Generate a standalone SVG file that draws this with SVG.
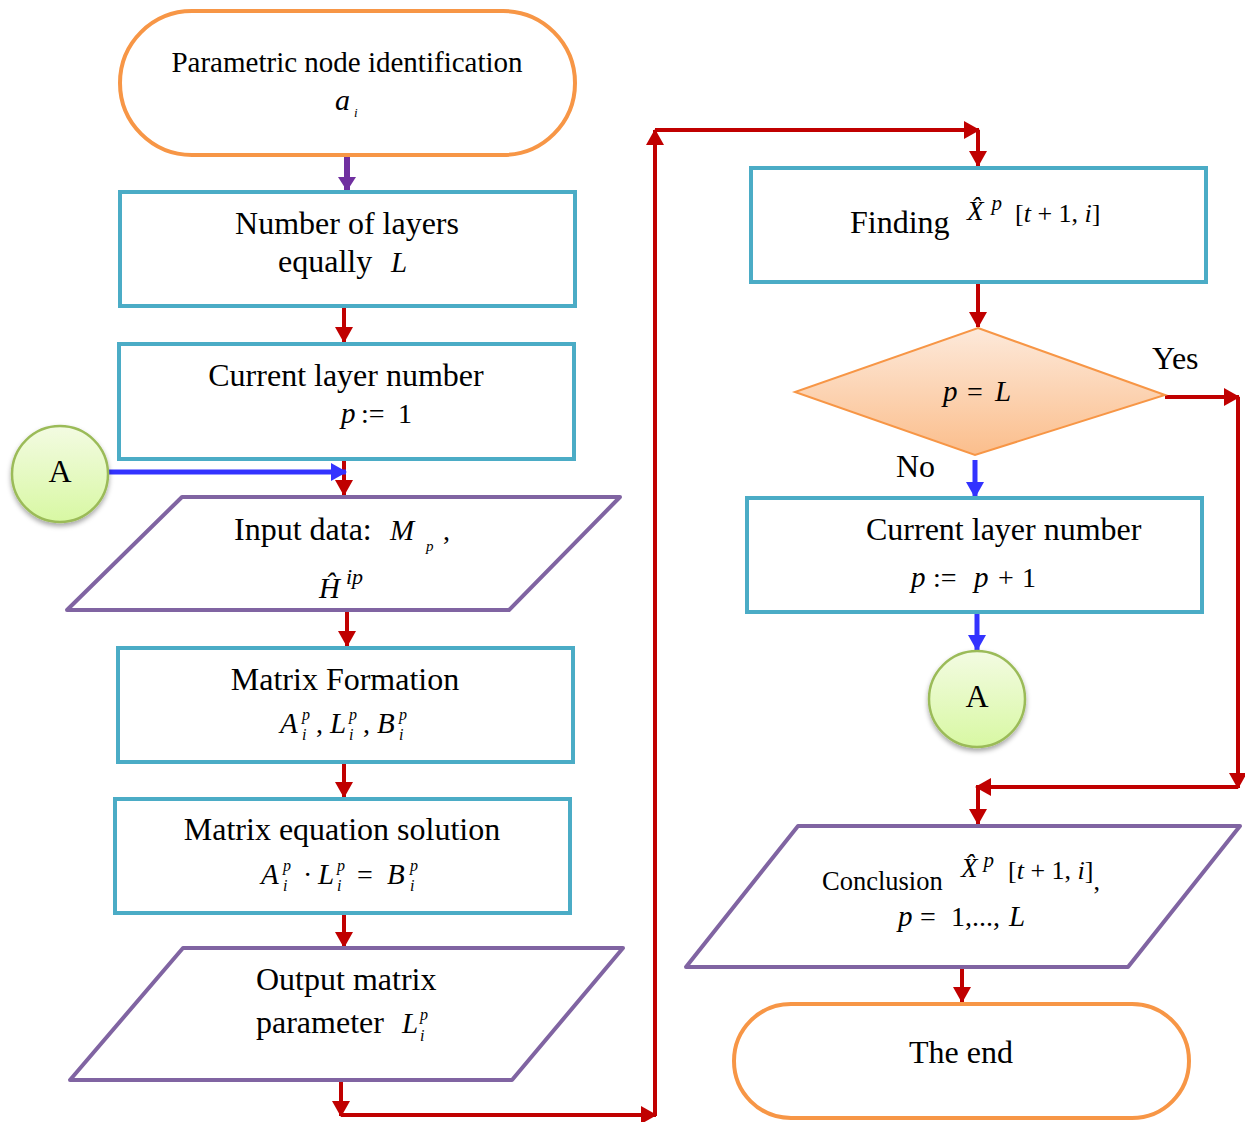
<svg xmlns="http://www.w3.org/2000/svg" width="1245" height="1122" viewBox="0 0 1245 1122">
<defs>
<style>
.t{font-family:"Liberation Serif","Times New Roman",serif;font-size:32px;fill:#000}
.q{font-family:"Liberation Serif","Times New Roman",serif;font-size:28px;fill:#000}
.m{font-family:"Liberation Serif","Times New Roman",serif;font-size:29px;font-style:italic;fill:#000}
.s{font-family:"Liberation Serif","Times New Roman",serif;font-size:16px;font-style:italic;fill:#000}
.term{fill:#fff;stroke:#F79646;stroke-width:4}
.box{fill:#fff;stroke:#4BACC6;stroke-width:4}
.par{fill:#fff;stroke:#8064A2;stroke-width:4;stroke-linejoin:round}
.circ{fill:url(#gg);stroke:#9BBB59;stroke-width:2.5;filter:url(#sh)}
.red{stroke:#C00000;stroke-width:4;fill:none}
.blue{stroke:#3333FF;stroke-width:5;fill:none}
.pur{stroke:#7030A0;stroke-width:6;fill:none}
</style>
<linearGradient id="gg" x1="0" y1="0" x2="0" y2="1"><stop offset="0" stop-color="#F3FBE2"/><stop offset="1" stop-color="#D8F8A3"/></linearGradient>
<linearGradient id="og" x1="0" y1="0" x2="0" y2="1"><stop offset="0" stop-color="#FDE9DA"/><stop offset="1" stop-color="#FBBE8C"/></linearGradient>
<filter id="sh" x="-30%" y="-30%" width="160%" height="170%"><feDropShadow dx="0" dy="3" stdDeviation="2.5" flood-color="#000" flood-opacity="0.35"/></filter>
<marker id="ar" markerUnits="userSpaceOnUse" markerWidth="16" markerHeight="18" refX="15" refY="9" orient="auto"><path d="M0,0 L16,9 L0,18 z" fill="#C00000"/></marker>
<marker id="ab" markerUnits="userSpaceOnUse" markerWidth="16" markerHeight="18" refX="15" refY="9" orient="auto"><path d="M0,0 L16,9 L0,18 z" fill="#3333FF"/></marker>
<marker id="ap" markerUnits="userSpaceOnUse" markerWidth="14" markerHeight="18" refX="13" refY="9" orient="auto"><path d="M0,0 L14,9 L0,18 z" fill="#7030A0"/></marker>
</defs>
<rect width="1245" height="1122" fill="#fff"/>

<g id="connectors">
<line class="pur" x1="347" y1="157" x2="347" y2="190" marker-end="url(#ap)"/>
<line class="red" x1="344" y1="307" x2="344" y2="342" marker-end="url(#ar)"/>
<line class="red" x1="344" y1="460" x2="344" y2="495" marker-end="url(#ar)"/>
<line class="blue" x1="109" y1="472" x2="346" y2="472" marker-end="url(#ab)"/>
<line class="red" x1="347" y1="611" x2="347" y2="646" marker-end="url(#ar)"/>
<line class="red" x1="344" y1="763" x2="344" y2="797" marker-end="url(#ar)"/>
<line class="red" x1="344" y1="914" x2="344" y2="947" marker-end="url(#ar)"/>
<line class="red" x1="341" y1="1081" x2="341" y2="1116" marker-end="url(#ar)"/>
<line class="red" x1="341" y1="1115" x2="656" y2="1115" marker-end="url(#ar)"/>
<line class="red" x1="655" y1="1116" x2="655" y2="130" marker-end="url(#ar)"/>
<line class="red" x1="655" y1="130" x2="979" y2="130" marker-end="url(#ar)"/>
<line class="red" x1="978" y1="130" x2="978" y2="166" marker-end="url(#ar)"/>
<line class="red" x1="978" y1="283" x2="978" y2="327" marker-end="url(#ar)"/>
<line class="red" x1="1165" y1="397" x2="1239" y2="397" marker-end="url(#ar)"/>
<line class="red" x1="1238" y1="397" x2="1238" y2="788" marker-end="url(#ar)"/>
<line class="red" x1="1238" y1="787" x2="976" y2="787" marker-end="url(#ar)"/>
<line class="red" x1="978" y1="787" x2="978" y2="824" marker-end="url(#ar)"/>
<line class="blue" x1="975" y1="460" x2="975" y2="497" marker-end="url(#ab)"/>
<line class="blue" x1="977" y1="613" x2="977" y2="650" marker-end="url(#ab)"/>
<line class="red" x1="962" y1="968" x2="962" y2="1002" marker-end="url(#ar)"/>
<text class="t" x="1152" y="369">Yes</text>
<text class="t" x="896" y="477">No</text>
</g>

<g id="start">
<rect class="term" x="120" y="11" width="455" height="144" rx="72"/>
<text class="t" x="347" y="72" text-anchor="middle" style="font-size:29px">Parametric node identification</text>
<text class="m" x="335" y="110" style="font-size:30px">a</text><text class="s" x="354" y="117" style="font-size:13px">i</text>
</g>

<g id="layers">
<rect class="box" x="120" y="192" width="455" height="114"/>
<text class="t" x="347" y="234" text-anchor="middle">Number of layers</text>
<text class="t" x="278" y="272">equally</text><text class="m" x="391" y="272">L</text>
</g>

<g id="current1">
<rect class="box" x="119" y="344" width="455" height="115"/>
<text class="t" x="346" y="386" text-anchor="middle">Current layer number</text>
<text class="m" x="341" y="423">p</text><text class="q" x="361" y="423">:=</text><text class="q" x="398" y="423">1</text>
</g>

<g id="connA1">
<circle class="circ" cx="60" cy="474" r="48"/>
<text class="t" x="60" y="482" text-anchor="middle">A</text>
</g>

<g id="input">
<polygon class="par" points="182,497 620,497 509,610 67,610"/>
<text class="t" x="234" y="540">Input data:</text>
<text class="m" x="390" y="540">M</text><text class="s" x="426" y="551" style="font-size:15px">p</text><text class="q" x="443" y="540">,</text>
<text class="m" x="319" y="598">Ĥ</text><text class="s" x="346" y="584" style="font-size:22px">ip</text>
</g>

<g id="formation">
<rect class="box" x="118" y="648" width="455" height="114"/>
<text class="t" x="345" y="690" text-anchor="middle">Matrix Formation</text>
<text class="m" x="280" y="733">A</text><text class="s" x="302" y="720">p</text><text class="s" x="302" y="740">i</text>
<text class="q" x="316" y="733">,</text>
<text class="m" x="330" y="733">L</text><text class="s" x="349" y="720">p</text><text class="s" x="349" y="740">i</text>
<text class="q" x="363" y="733">,</text>
<text class="m" x="377" y="733">B</text><text class="s" x="399" y="720">p</text><text class="s" x="399" y="740">i</text>
</g>

<g id="solution">
<rect class="box" x="115" y="799" width="455" height="114"/>
<text class="t" x="342" y="840" text-anchor="middle">Matrix equation solution</text>
<text class="m" x="261" y="884">A</text><text class="s" x="283" y="871">p</text><text class="s" x="283" y="891">i</text>
<text class="q" x="303" y="884">·</text>
<text class="m" x="318" y="884">L</text><text class="s" x="337" y="871">p</text><text class="s" x="337" y="891">i</text>
<text class="q" x="357" y="884">=</text>
<text class="m" x="387" y="884">B</text><text class="s" x="410" y="871">p</text><text class="s" x="410" y="891">i</text>
</g>

<g id="output">
<polygon class="par" points="183,948 623,948 512,1080 70,1080"/>
<text class="t" x="256" y="990">Output matrix</text>
<text class="t" x="256" y="1033">parameter</text>
<text class="m" x="402" y="1033">L</text><text class="s" x="420" y="1020">p</text><text class="s" x="420" y="1041">i</text>
</g>

<g id="finding">
<rect class="box" x="751" y="168" width="455" height="114"/>
<text class="t" x="850" y="233">Finding</text>
<text class="m" x="967" y="220" style="font-size:27px">X&#x302;<tspan style="font-size:21px" dy="-10" dx="8">p</tspan></text>
<text class="q" x="1015" y="222" style="font-size:26px">[<tspan font-style="italic">t</tspan> + 1, <tspan font-style="italic">i</tspan>]</text>
</g>

<g id="decision">
<polygon points="978,328 1165,395 975,455 795,392" fill="url(#og)" stroke="#F79646" stroke-width="2"/>
<text class="m" x="943" y="401">p</text><text class="q" x="967" y="401">=</text><text class="m" x="995" y="401">L</text>
</g>

<g id="current2">
<rect class="box" x="747" y="498" width="455" height="114"/>
<text class="t" x="866" y="540">Current layer number</text>
<text class="m" x="911" y="587">p</text><text class="q" x="933" y="587">:=</text><text class="m" x="974" y="587">p</text><text class="q" x="998" y="587">+</text><text class="q" x="1022" y="587">1</text>
</g>

<g id="connA2">
<circle class="circ" cx="977" cy="699" r="48"/>
<text class="t" x="977" y="707" text-anchor="middle">A</text>
</g>

<g id="conclusion">
<polygon class="par" points="798,826 1240,826 1128,967 686,967"/>
<text class="t" x="822" y="890" style="font-size:26.5px">Conclusion</text>
<text class="m" x="961" y="877" style="font-size:27px">X&#x302;<tspan style="font-size:21px" dy="-10" dx="6">p</tspan></text>
<text class="q" x="1008" y="879" style="font-size:26px">[<tspan font-style="italic">t</tspan> + 1, <tspan font-style="italic">i</tspan>]<tspan dy="11">,</tspan></text>
<text class="m" x="898" y="926">p</text><text class="q" x="920" y="926">=</text><text class="q" x="951" y="926">1,...,</text><text class="m" x="1009" y="926">L</text>
</g>

<g id="end">
<rect class="term" x="734" y="1004" width="455" height="114" rx="57"/>
<text class="t" x="961" y="1063" text-anchor="middle">The end</text>
</g>
</svg>
